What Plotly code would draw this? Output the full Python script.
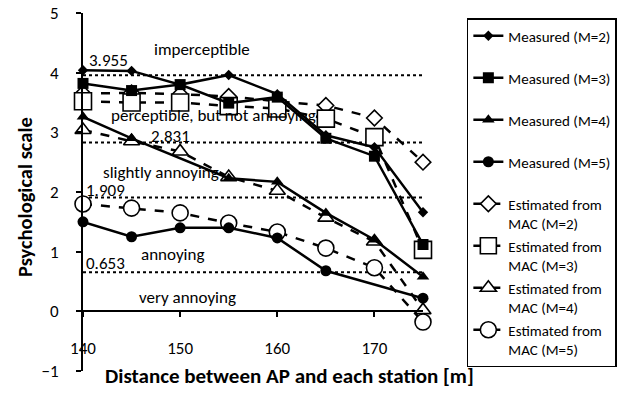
import plotly.graph_objects as go

distance = [140, 145, 150, 155, 160, 165, 170, 175]

meas_m2 = [4.04, 4.03, 3.80, 3.96, 3.64, 2.95, 2.75, 1.66]
meas_m3 = [3.82, 3.70, 3.80, 3.49, 3.59, 2.90, 2.60, 1.12]
meas_m4 = [3.26, 2.90, None, 2.23, 2.17, 1.65, 1.20, 0.58]
meas_m5 = [1.50, 1.25, 1.40, 1.40, 1.23, 0.68, None, 0.22]

est_m2 = [3.65, 3.66, 3.64, 3.60, 3.52, 3.45, 3.24, 2.50]
est_m3 = [3.52, 3.50, 3.50, 3.44, 3.40, 3.23, 2.92, 1.03]
est_m4 = [3.04, 2.85, 2.68, 2.25, 2.02, 1.57, 1.17, 0.02]
est_m5 = [1.80, 1.73, 1.65, 1.48, 1.33, 1.06, 0.73, -0.18]

thresholds = [3.955, 2.831, 1.909, 0.653]
categories = ["imperceptible", "perceptible, but not annoying", "slightly annoying",
              "annoying", "very annoying"]

meas_names = ["Measured (M=2)", "Measured (M=3)", "Measured (M=4)", "Measured (M=5)"]
est_names = ["Estimated from<br>MAC (M=2)", "Estimated from<br>MAC (M=3)",
             "Estimated from<br>MAC (M=4)", "Estimated from<br>MAC (M=5)"]

x_title = "Distance between AP and each station [m]"
y_title = "Psychological scale"

FONT = "Carlito, Lato, sans-serif"

fig = go.Figure()

# threshold dotted lines
for t in thresholds:
    fig.add_trace(go.Scatter(x=[distance[0], distance[-1]], y=[t, t], mode="lines",
                             line=dict(color="black", width=2, dash="dot"),
                             showlegend=False, hoverinfo="skip"))

est_series = [est_m2, est_m3, est_m4, est_m5]
est_symbols = ["diamond", "square", "triangle-up", "circle"]
est_sizes = [12, 17, 14, 16]
for i, (ys, sym, sz) in enumerate(zip(est_series, est_symbols, est_sizes)):
    fig.add_trace(go.Scatter(
        x=distance, y=ys, mode="lines+markers", name=est_names[i],
        legendrank=5 + i, connectgaps=True, cliponaxis=False,
        line=dict(color="black", width=2.5, dash="dash"),
        marker=dict(symbol=sym, size=sz, color="white",
                    line=dict(color="black", width=1.6))))

meas_series = [meas_m2, meas_m3, meas_m4, meas_m5]
meas_symbols = ["diamond", "square", "triangle-up", "circle"]
meas_sizes = [8, 11, 11, 11]
for i, (ys, sym, sz) in enumerate(zip(meas_series, meas_symbols, meas_sizes)):
    fig.add_trace(go.Scatter(
        x=distance, y=ys, mode="lines+markers", name=meas_names[i] + "<br> ",
        legendrank=1 + i, connectgaps=True, cliponaxis=False,
        line=dict(color="black", width=2.5),
        marker=dict(symbol=sym, size=sz, color="black")))

# annotations
ann = []
label_pos = [(152.2, 4.38), (153.4, 3.29), (148.0, 2.33), (149.2, 0.96), (150.8, 0.24)]
for txt, (ax, ay) in zip(categories, label_pos):
    ann.append(dict(x=ax, y=ay, text=txt, showarrow=False, xref="x", yref="y",
                    font=dict(size=17, color="black", family=FONT)))
num_pos = [(142.6, 4.21), (149.0, 2.93), (142.3, 2.03), (142.3, 0.81)]
for t, (ax, ay) in zip(thresholds, num_pos):
    ann.append(dict(x=ax, y=ay, text=f"{t:.3f}", showarrow=False, xref="x", yref="y",
                    font=dict(size=17, color="black", family=FONT)))
ann.append(dict(x=0.606, y=-0.014, xref="paper", yref="paper", showarrow=False,
                text=f"<b>{x_title}</b>", xanchor="center", yanchor="middle",
                font=dict(size=21, color="black", family=FONT)))
ann.append(dict(x=-0.1706, y=0.486, xref="paper", yref="paper", showarrow=False,
                text=f"<b>{y_title}</b>", textangle=-90, xanchor="center",
                yanchor="middle", font=dict(size=20.5, color="black", family=FONT)))

fig.update_layout(
    width=633, height=403,
    margin=dict(l=83, r=210, t=13, b=32, autoexpand=False),
    paper_bgcolor="white", plot_bgcolor="white",
    font=dict(family=FONT, size=16, color="black"),
    annotations=ann,
    showlegend=True,
    legend=dict(x=1.129, y=0.986, xanchor="left", yanchor="top",
                bordercolor="black", borderwidth=1.5, bgcolor="white",
                valign="top", itemwidth=30, tracegroupgap=0,
                font=dict(size=15, family=FONT)),
    xaxis=dict(range=[140, 175], tickvals=[140, 150, 160, 170], showgrid=False,
               zeroline=False, showline=True, linecolor="black", linewidth=2,
               ticks="outside", ticklen=5, tickwidth=1.5, tickcolor="black",
               anchor="free", position=1 / 6, ticklabelstandoff=16,
               tickfont=dict(size=17)),
    yaxis=dict(range=[-1, 5], dtick=1, showgrid=False, zeroline=False,
               showline=True, linecolor="black", linewidth=2,
               ticks="outside", ticklen=5, tickwidth=1.5, tickcolor="black",
               ticklabelstandoff=14, tickfont=dict(size=17)),
)

fig.write_html("out.html")
